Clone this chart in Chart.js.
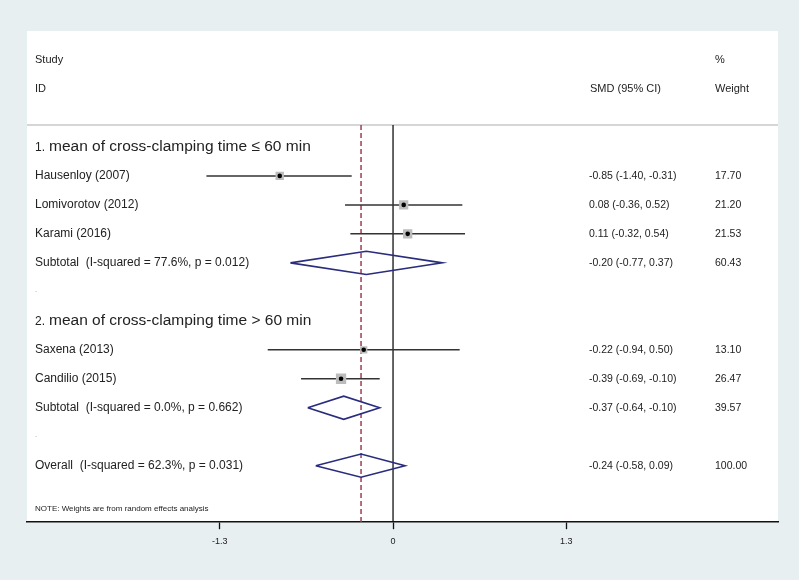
<!DOCTYPE html>
<html>
<head>
<meta charset="utf-8">
<title>Forest plot</title>
<script src="https://cdn.jsdelivr.net/npm/chart.js@4.4.0/dist/chart.umd.min.js"></script>
<style>
    html, body { margin: 0; padding: 0; background: #e8eff1; }
    #wrap { width: 799px; height: 580px; }
</style>
</head>
<body>
<div id="wrap"><canvas id="forest" width="799" height="580"></canvas></div>
<script>
"use strict";

// studies
var studyNames = ["Hausenloy (2007)", "Lomivorotov (2012)", "Karami (2016)", "Saxena (2013)", "Candilio (2015)"];
var studyRows = [1, 2, 3, 7, 8];
var studySmd = [-0.85, 0.08, 0.11, -0.22, -0.39];
var studyLow = [-1.40, -0.36, -0.32, -0.94, -0.69];
var studyHigh = [-0.31, 0.52, 0.54, 0.50, -0.10];
var studyWeight = [17.70, 21.20, 21.53, 13.10, 26.47];

// subtotals + overall
var poolNames = ["Subtotal  (I-squared = 77.6%, p = 0.012)", "Subtotal  (I-squared = 0.0%, p = 0.662)", "Overall  (I-squared = 62.3%, p = 0.031)"];
var poolRows = [4, 9, 11];
var poolSmd = [-0.20, -0.37, -0.24];
var poolLow = [-0.77, -0.64, -0.58];
var poolHigh = [0.37, -0.10, 0.09];
var poolWeight = [60.43, 39.57, 100.00];

// group headings
var groupNums = ["1.", "2."];
var groupTitles = ["mean of cross-clamping time \u2264 60 min", "mean of cross-clamping time > 60 min"];
var groupRows = [0, 6];
var blankRows = [5, 10];

var xTicks = [-1.3, 0, 1.3];

var FONT = "'Liberation Sans', Arial, sans-serif";
var TEXT = "#222222";

var fmt = function(v) { return v.toFixed(2); };

var datasets = [];

// null line and overall effect line
datasets.push({
    data: [{ x: 0, y: -0.76 }, { x: 0, y: 12.95 }],
    showLine: true, borderColor: "#111111", borderWidth: 1.3, pointRadius: 0, order: 9
});
datasets.push({
    data: [{ x: poolSmd[2], y: -0.76 }, { x: poolSmd[2], y: 12.95 }],
    showLine: true, borderColor: "#a13a55", borderWidth: 1.5, borderDash: [5, 3], pointRadius: 0, order: 8
});

// confidence intervals
for (var i = 0; i < studyNames.length; i++) {
    datasets.push({
        data: [{ x: studyLow[i], y: studyRows[i] }, { x: studyHigh[i], y: studyRows[i] }],
        showLine: true, borderColor: "#333333", borderWidth: 1.5, pointRadius: 0, order: 5
    });
}

// weight boxes (side ~ sqrt of weight)
datasets.push({
    data: studySmd.map(function(v, i) { return { x: v, y: studyRows[i] }; }),
    pointStyle: "rect",
    pointRadius: function(ctx) { return 2.0 * Math.sqrt(studyWeight[ctx.dataIndex]) / 1.414; },
    backgroundColor: "#bcbcbc", borderWidth: 0, order: 3
});

// point estimates
datasets.push({
    data: studySmd.map(function(v, i) { return { x: v, y: studyRows[i] }; }),
    pointStyle: "circle", pointRadius: 2.3, backgroundColor: "#000000", borderWidth: 0, order: 2
});

// diamonds
for (var j = 0; j < poolNames.length; j++) {
    var r = poolRows[j];
    datasets.push({
        data: [
            { x: poolLow[j], y: r }, { x: poolSmd[j], y: r - 0.4 }, { x: poolHigh[j], y: r },
            { x: poolSmd[j], y: r + 0.4 }, { x: poolLow[j], y: r }
        ],
        showLine: true, borderColor: "#2a2c7e", borderWidth: 1.6, pointRadius: 0, tension: 0, order: 1
    });
}

// background, white panel and header rule
var panelPlugin = {
    id: "panel",
    beforeDraw: function(chart) {
        var c = chart.ctx, a = chart.chartArea;
        c.save();
        c.fillStyle = "#e8eff1";
        c.fillRect(0, 0, chart.width, chart.height);
        c.fillStyle = "#ffffff";
        c.fillRect(a.left, a.top, a.right - a.left, a.bottom - a.top);
        var y = chart.scales.y.getPixelForValue(-0.76);
        c.strokeStyle = "#c9c9c9";
        c.lineWidth = 1.5;
        c.beginPath();
        c.moveTo(a.left, y);
        c.lineTo(a.right, y);
        c.stroke();
        c.restore();
    }
};

// all the text columns
var textPlugin = {
    id: "columns",
    afterDraw: function(chart) {
        var c = chart.ctx, ys = chart.scales.y;
        var colLabel = 35, colCi = 589, colW = 715;
        c.save();
        c.fillStyle = TEXT;
        c.textBaseline = "middle";
        c.textAlign = "left";

        c.font = "11px " + FONT;
        c.fillText("Study", colLabel, ys.getPixelForValue(-3));
        c.fillText("ID", colLabel, ys.getPixelForValue(-2));
        c.fillText("SMD (95% CI)", colCi + 1, ys.getPixelForValue(-2));
        c.fillText("%", colW, ys.getPixelForValue(-3));
        c.fillText("Weight", colW, ys.getPixelForValue(-2));

        groupRows.forEach(function(r, g) {
            var y = ys.getPixelForValue(r);
            c.font = "12px " + FONT;
            c.fillText(groupNums[g], colLabel, y + 1);
            c.font = "15.5px " + FONT;
            c.fillText(groupTitles[g], colLabel + 14, y);
        });

        studyNames.forEach(function(n, i) {
            var y = ys.getPixelForValue(studyRows[i]);
            c.font = "12px " + FONT;
            c.fillText(n, colLabel, y);
            c.font = "10.5px " + FONT;
            c.fillText(fmt(studySmd[i]) + " (" + fmt(studyLow[i]) + ", " + fmt(studyHigh[i]) + ")", colCi, y);
            c.fillText(fmt(studyWeight[i]), colW, y);
        });

        poolNames.forEach(function(n, j) {
            var y = ys.getPixelForValue(poolRows[j]);
            c.font = "12px " + FONT;
            c.fillText(n, colLabel, y);
            c.font = "10.5px " + FONT;
            c.fillText(fmt(poolSmd[j]) + " (" + fmt(poolLow[j]) + ", " + fmt(poolHigh[j]) + ")", colCi, y);
            c.fillText(fmt(poolWeight[j]), colW, y);
        });

        c.font = "8px " + FONT;
        c.fillStyle = "#999999";
        blankRows.forEach(function(r) {
            c.fillText(".", colLabel, ys.getPixelForValue(r) - 2);
        });

        c.fillStyle = TEXT;
        c.font = "8px " + FONT;
        c.fillText("NOTE: Weights are from random effects analysis", colLabel, ys.getPixelForValue(12.5));
        c.restore();
    }
};

new Chart(document.getElementById("forest"), {
    type: "scatter",
    data: { datasets: datasets },
    options: {
        responsive: false,
        animation: false,
        layout: { padding: { left: 27, right: 21, top: 31, bottom: 26 } },
        plugins: { legend: { display: false }, tooltip: { enabled: false } },
        scales: {
            x: {
                type: "linear",
                min: -2.746,
                max: 2.888,
                afterBuildTicks: function(scale) {
                    scale.ticks = xTicks.map(function(v) { return { value: v }; });
                },
                ticks: {
                    color: "#222222",
                    font: { family: FONT, size: 9 },
                    padding: 7,
                    maxRotation: 0,
                    callback: function(v) { return String(v); }
                },
                grid: { display: true, drawOnChartArea: false, tickLength: 7, tickColor: "#111111", tickWidth: 1.3 },
                border: { display: true, color: "#111111", width: 1.5 }
            },
            y: {
                type: "linear",
                display: false,
                reverse: true,
                min: -4,
                max: 12.95
            }
        }
    },
    plugins: [panelPlugin, textPlugin]
});
</script>
</body>
</html>
